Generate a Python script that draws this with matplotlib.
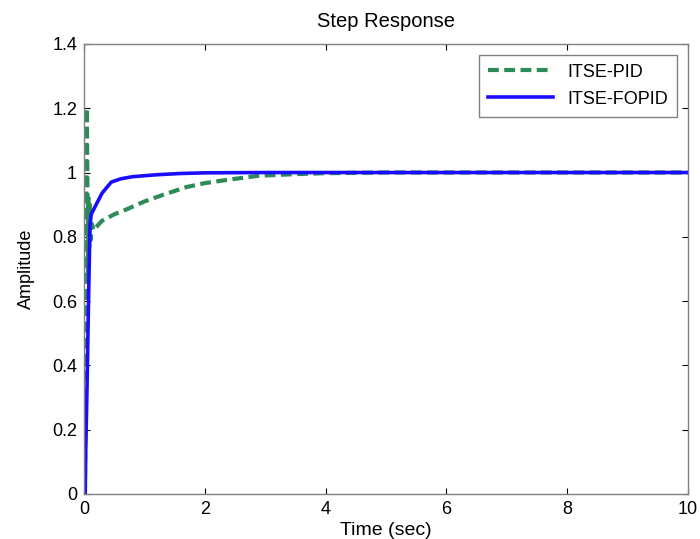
import matplotlib

matplotlib.use("Agg")
import matplotlib.pyplot as plt

# ITSE-PID step response
pid_t = [0, 0.015, 0.025, 0.035, 0.045, 0.055, 0.065, 0.075, 0.085, 0.095, 0.11, 0.13, 0.16, 0.2, 0.3,
         0.5, 0.7, 1.0, 1.3, 1.7, 2.0, 2.4, 2.9, 3.5, 4.0, 5.0, 10.0]
pid_y = [0, 0, 0.38, 0.9, 1.2, 1.0, 0.66, 0.92, 0.77, 0.9, 0.79, 0.84, 0.82, 0.83, 0.85,
         0.87, 0.885, 0.91, 0.93, 0.955, 0.967, 0.978, 0.99, 0.995, 0.998, 1.0, 1.0]

# ITSE-FOPID step response
fopid_t = [0, 0.02, 0.03, 0.05, 0.07, 0.085, 0.1, 0.12, 0.2, 0.3, 0.45, 0.6, 0.8, 1.2, 1.6, 2.0, 3.0, 10.0]
fopid_y = [0, 0, 0.15, 0.33, 0.55, 0.7, 0.84, 0.87, 0.9, 0.936, 0.97, 0.98, 0.987, 0.993, 0.997, 0.999, 1.0, 1.0]

x_ticks = [0, 2, 4, 6, 8, 10]
y_ticks = [0, 0.2, 0.4, 0.6, 0.8, 1.0, 1.2, 1.4]
y_tick_labels = ["0", "0.2", "0.4", "0.6", "0.8", "1", "1.2", "1.4"]

plt.rcParams["font.family"] = ["Liberation Sans", "DejaVu Sans"]

fig = plt.figure(figsize=(7.0, 5.39), dpi=100)
ax = fig.add_axes([0.12, 0.0835, 0.863, 0.835])

ax.plot(pid_t, pid_y, color="#2e8b57", linestyle=(0, (2.6, 1.3)), linewidth=3.0, label="ITSE-PID")
ax.plot(fopid_t, fopid_y, color="#1a0dff", linewidth=2.6, label="ITSE-FOPID")

ax.set_xlim(0, 10)
ax.set_ylim(0, 1.4)
ax.set_xticks(x_ticks)
ax.set_xticklabels([str(v) for v in x_ticks])
ax.set_yticks(y_ticks)
ax.set_yticklabels(y_tick_labels)
ax.tick_params(direction="in", top=True, right=True, labelsize=13, length=4, pad=5)
for spine in ax.spines.values():
    spine.set_color("#808080")
    spine.set_linewidth(1.0)

ax.set_title("Step Response", fontsize=14.5, pad=12)
ax.set_xlabel("Time (sec)", fontsize=14, labelpad=3)
ax.set_ylabel("Amplitude", fontsize=13, labelpad=12)

leg = ax.legend(loc="upper right", fontsize=13, fancybox=False, framealpha=1,
                edgecolor="#808080", handlelength=3.6, borderaxespad=0.6, borderpad=0.5,
                labelspacing=0.55)
leg.get_frame().set_linewidth(1.0)

fig.savefig("out.png", dpi=100)
